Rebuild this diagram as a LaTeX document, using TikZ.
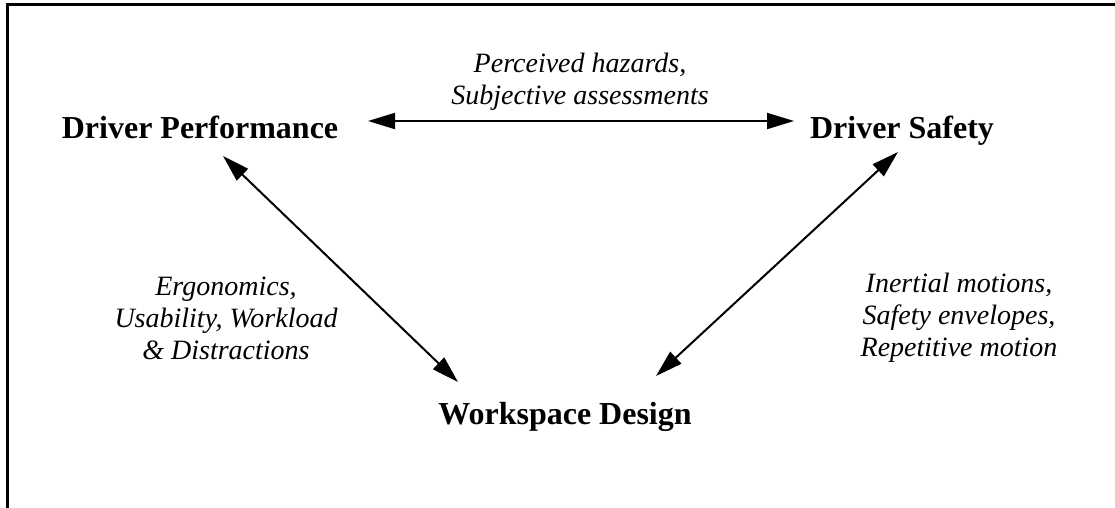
\documentclass[tikz,border=0pt]{standalone}
\usepackage{fontspec}
\setmainfont{Liberation Serif}
\usetikzlibrary{arrows.meta}

\tikzset{
  topic/.style={font=\fontsize{32}{36}\selectfont\bfseries, anchor=base},
  link/.style={font=\fontsize{28}{32}\selectfont\itshape, align=center},
  both/.style={{Triangle[length=27pt,width=16pt]}-{Triangle[length=27pt,width=16pt]}, line width=2pt},
}

\begin{document}
\begin{tikzpicture}[x=1pt,y=-1pt]
  \useasboundingbox (0,0) rectangle (1115,508);
  % frame, open at right and bottom
  \draw[line width=3pt] (7,508) -- (7,5) -- (1115,5);

  \node[topic] (perf) at (200,138) {Driver Performance};
  \node[topic] (safe) at (902,138) {Driver Safety};
  \node[topic] (work) at (565,424) {Workspace Design};

  % arrow ends
  \coordinate (perf-r) at (368,121);
  \coordinate (safe-l) at (794,121);
  \coordinate (perf-b) at (223,156);
  \coordinate (work-l) at (458,382);
  \coordinate (safe-b) at (898,152);
  \coordinate (work-r) at (656,376);

  \draw[both] (perf-r) -- (safe-l);
  \draw[both] (perf-b) -- (work-l);
  \draw[both] (safe-b) -- (work-r);

  \node[link] (hazards) at (580,82) {Perceived hazards,\\Subjective assessments};
  \node[link] (ergo) at (226,318) {Ergonomics,\\Usability, Workload\\\& Distractions};
  \node[link] (inertial) at (959,318) {Inertial motions,\\Safety envelopes,\\Repetitive motion};
\end{tikzpicture}
\end{document}
